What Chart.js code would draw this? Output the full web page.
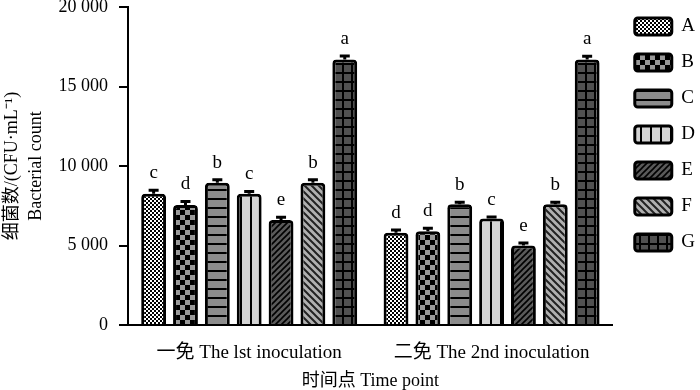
<!DOCTYPE html>
<html>
<head>
<meta charset="utf-8">
<title>Bacterial count</title>
<script src="https://cdn.jsdelivr.net/npm/chart.js"></script>
<style>
  body { margin: 0; background: #fff; }
  canvas { display: block; }
</style>
</head>
<body>
<canvas id="bacteria-chart" width="700" height="390"></canvas>
<script>
var timePoints = ['一免 The lst inoculation', '二免 The 2nd inoculation'];
var groupNames = ['A', 'B', 'C', 'D', 'E', 'F', 'G'];

// counts per group, one array per time point
var firstCounts = [8250, 7550, 8950, 8250, 6600, 8950, 16700];
var secondCounts = [5800, 5900, 7600, 6700, 5000, 7600, 16700];
var firstErrors = [220, 220, 180, 150, 180, 180, 220];
var secondErrors = [180, 180, 120, 100, 150, 120, 200];
var firstLetters = ['c', 'd', 'b', 'c', 'e', 'b', 'a'];
var secondLetters = ['d', 'd', 'b', 'c', 'e', 'b', 'a'];

var yTicks = [0, 5000, 10000, 15000, 20000];

var serif = "'Liberation Serif', 'Noto Sans CJK SC', serif";

var canvas = document.getElementById('bacteria-chart');
var ctx = canvas.getContext('2d');

function makePattern(w, h, draw) {
    var c = document.createElement('canvas');
    c.width = w;
    c.height = h;
    draw(c.getContext('2d'));
    return ctx.createPattern(c, 'repeat');
}

var patterns = [
    makePattern(4, 4, function (g) {
        g.fillStyle = '#fff'; g.fillRect(0, 0, 4, 4);
        g.fillStyle = '#000'; g.fillRect(0, 0, 2, 2); g.fillRect(2, 2, 2, 2);
    }),
    makePattern(10, 10, function (g) {
        g.fillStyle = '#999'; g.fillRect(0, 0, 10, 10);
        g.fillStyle = '#000'; g.fillRect(0, 0, 5, 5); g.fillRect(5, 5, 5, 5);
    }),
    makePattern(9, 9, function (g) {
        g.fillStyle = '#8c8c8c'; g.fillRect(0, 0, 9, 9);
        g.fillStyle = '#000'; g.fillRect(0, 0, 9, 2);
    }),
    makePattern(10, 10, function (g) {
        g.fillStyle = '#d4d4d4'; g.fillRect(0, 0, 10, 10);
        g.fillStyle = '#000'; g.fillRect(0, 0, 2, 10);
    }),
    makePattern(6, 6, function (g) {
        g.fillStyle = '#5a5a5a'; g.fillRect(0, 0, 6, 6);
        g.strokeStyle = '#000'; g.lineWidth = 1.6;
        g.beginPath();
        g.moveTo(-1, 7); g.lineTo(7, -1);
        g.moveTo(-1, 1); g.lineTo(1, -1);
        g.moveTo(5, 7); g.lineTo(7, 5);
        g.stroke();
    }),
    makePattern(7, 7, function (g) {
        g.fillStyle = '#b0b0b0'; g.fillRect(0, 0, 7, 7);
        g.strokeStyle = '#222'; g.lineWidth = 2;
        g.beginPath();
        g.moveTo(-1, -1); g.lineTo(8, 8);
        g.moveTo(-1, 6); g.lineTo(1, 8);
        g.moveTo(6, -1); g.lineTo(8, 1);
        g.stroke();
    }),
    makePattern(9, 9, function (g) {
        g.fillStyle = '#505050'; g.fillRect(0, 0, 9, 9);
        g.fillStyle = '#000'; g.fillRect(0, 0, 9, 2); g.fillRect(0, 0, 2, 9);
    })
];

var datasets = groupNames.map(function (name, i) {
    return {
        label: name,
        data: [firstCounts[i], secondCounts[i]],
        errors: [firstErrors[i], secondErrors[i]],
        letters: [firstLetters[i], secondLetters[i]],
        backgroundColor: patterns[i],
        borderColor: '#000',
        borderWidth: 3,
        borderRadius: 4,
        borderSkipped: 'start',
        categoryPercentage: 0.92,
        barPercentage: 0.78
    };
});

// error caps and significance letters on top of each bar
var errorBars = {
    id: 'errorBars',
    afterDatasetsDraw: function (chart) {
        var c = chart.ctx;
        var yScale = chart.scales.y;
        c.save();
        c.strokeStyle = '#000';
        c.lineWidth = 3;
        c.fillStyle = '#000';
        c.font = '19px ' + serif;
        c.textAlign = 'center';
        c.textBaseline = 'alphabetic';
        chart.data.datasets.forEach(function (ds, i) {
            chart.getDatasetMeta(i).data.forEach(function (bar, j) {
                var top = yScale.getPixelForValue(ds.data[j] + ds.errors[j]);
                c.beginPath();
                c.moveTo(bar.x, bar.y);
                c.lineTo(bar.x, top);
                c.moveTo(bar.x - 5, top);
                c.lineTo(bar.x + 5, top);
                c.stroke();
                c.fillText(ds.letters[j], bar.x, top - 12);
            });
        });
        c.restore();
    }
};

// leave a wider gap between the plot and the legend boxes
var legendGap = {
    id: 'legendGap',
    afterLayout: function (chart) {
        chart.legend.left += 5;
        chart.legend.right += 5;
    }
};

var myChart = new Chart(ctx, {
    type: 'bar',
    data: {
        labels: timePoints,
        datasets: datasets
    },
    plugins: [errorBars, legendGap],
    options: {
        responsive: false,
        animation: false,
        layout: { padding: 0 },
        plugins: {
            legend: {
                position: 'right',
                align: 'start',
                labels: {
                    boxWidth: 37,
                    boxHeight: 17,
                    padding: 17,
                    useBorderRadius: true,
                    borderRadius: 3,
                    color: '#000',
                    font: { family: serif, size: 19 }
                }
            },
            tooltip: { enabled: false }
        },
        scales: {
            x: {
                grid: { display: false, drawTicks: false },
                border: { display: true, color: '#000', width: 2 },
                ticks: {
                    color: '#000',
                    padding: 17,
                    font: { family: serif, size: 19 }
                },
                title: {
                    display: true,
                    text: '时间点 Time point',
                    color: '#000',
                    padding: { top: 0, bottom: 0 },
                    font: { family: serif, size: 18, lineHeight: 1.0 }
                },
                afterFit: function (scale) { scale.height = 65; }
            },
            y: {
                min: 0,
                max: 20000,
                afterBuildTicks: function (scale) {
                    scale.ticks = yTicks.map(function (v) { return { value: v }; });
                },
                grid: {
                    drawOnChartArea: false,
                    drawTicks: true,
                    tickLength: 9,
                    color: '#000',
                    lineWidth: 2
                },
                border: { display: true, color: '#000', width: 2 },
                ticks: {
                    color: '#000',
                    padding: 11,
                    font: { family: serif, size: 18 },
                    callback: function (value) {
                        return String(value).replace(/\B(?=(\d{3})+(?!\d))/g, ' ');
                    }
                },
                title: {
                    display: true,
                    text: ['细菌数/(CFU·mL⁻¹)', 'Bacterial count'],
                    color: '#000',
                    padding: { top: 0, bottom: 0 },
                    font: { family: serif, size: 18, lineHeight: 1.35 }
                },
                afterFit: function (scale) {
                    scale.width = 128;
                    scale.paddingTop = 7;
                }
            }
        }
    }
});
</script>
</body>
</html>
